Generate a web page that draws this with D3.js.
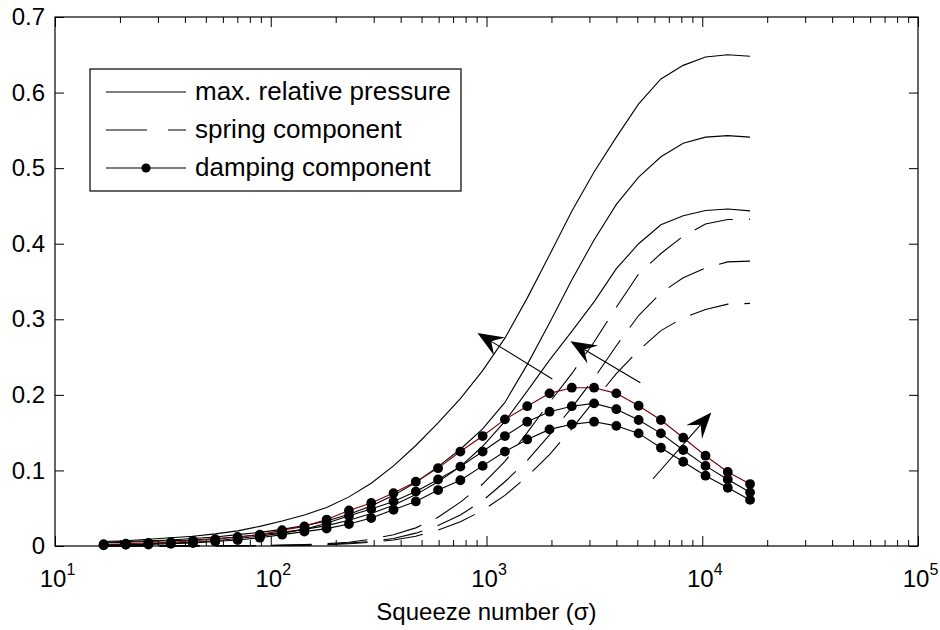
<!DOCTYPE html>
<html>
<head>
<meta charset="utf-8">
<script src="https://cdn.jsdelivr.net/npm/d3@7"></script>
<style>
  html, body { margin: 0; padding: 0; background: #fff; }
  svg { display: block; font-family: "Liberation Sans", Arial, Helvetica, sans-serif; }
</style>
</head>
<body>
<svg id="chart" width="940" height="630"></svg>
<script>
// ---------------- data ----------------
const sigma = [16.8, 21.3, 27.1, 34.4, 43.6, 55.3, 70.2, 89.0, 112.9, 143.2,
               181.6, 230.4, 292.2, 370.7, 470.2, 596.4, 756.6, 959.7, 1217, 1544,
               1959, 2485, 3152, 3998, 5072, 6433, 8161, 10352, 13131, 16657];

const pressure1 = [0.006, 0.007, 0.009, 0.011, 0.013, 0.016, 0.020, 0.026, 0.033, 0.041,
                   0.051, 0.065, 0.083, 0.106, 0.133, 0.163, 0.195, 0.232, 0.275, 0.328,
                   0.385, 0.443, 0.495, 0.541, 0.585, 0.618, 0.636, 0.647, 0.650, 0.648];
const pressure2 = [0.005, 0.006, 0.007, 0.008, 0.010, 0.012, 0.015, 0.018, 0.022, 0.027,
                   0.033, 0.042, 0.053, 0.067, 0.084, 0.105, 0.128, 0.155, 0.190, 0.240,
                   0.295, 0.352, 0.405, 0.452, 0.488, 0.515, 0.533, 0.541, 0.543, 0.541];
const pressure3 = [0.004, 0.005, 0.006, 0.007, 0.008, 0.010, 0.012, 0.015, 0.018, 0.022,
                   0.027, 0.034, 0.043, 0.054, 0.068, 0.085, 0.105, 0.132, 0.165, 0.205,
                   0.246, 0.284, 0.323, 0.367, 0.400, 0.425, 0.437, 0.444, 0.446, 0.4435];

const spring1 = [0.0001, 0.0001, 0.0002, 0.0002, 0.0003, 0.0004, 0.0005, 0.0008, 0.0012, 0.002,
                 0.003, 0.005, 0.009, 0.015, 0.024, 0.038, 0.058, 0.082, 0.112, 0.150,
                 0.190, 0.228, 0.270, 0.316, 0.360, 0.387, 0.410, 0.426, 0.432, 0.4325];
const spring2 = [0.0001, 0.0001, 0.0001, 0.0002, 0.0002, 0.0003, 0.0004, 0.0006, 0.0009, 0.0014,
                 0.002, 0.004, 0.006, 0.010, 0.017, 0.027, 0.041, 0.060, 0.085, 0.113,
                 0.147, 0.183, 0.222, 0.265, 0.305, 0.335, 0.355, 0.368, 0.376, 0.377];
const spring3 = [0.0001, 0.0001, 0.0001, 0.0001, 0.0002, 0.0002, 0.0003, 0.0005, 0.0007, 0.001,
                 0.0016, 0.003, 0.005, 0.008, 0.013, 0.021, 0.032, 0.047, 0.067, 0.092,
                 0.121, 0.155, 0.192, 0.228, 0.259, 0.285, 0.302, 0.313, 0.320, 0.321];

const damping1 = [0.002, 0.003, 0.004, 0.005, 0.007, 0.009, 0.012, 0.015, 0.021, 0.026,
                  0.035, 0.047, 0.057, 0.070, 0.085, 0.103, 0.125, 0.1455, 0.1676, 0.185,
                  0.202, 0.2095, 0.2095, 0.202, 0.1856, 0.1667, 0.1433, 0.1195, 0.098, 0.082];
const damping2 = [0.002, 0.002, 0.003, 0.004, 0.005, 0.007, 0.010, 0.013, 0.017, 0.022,
                  0.030, 0.040, 0.049, 0.059, 0.072, 0.088, 0.105, 0.125, 0.1455, 0.1644,
                  0.1777, 0.185, 0.1887, 0.181, 0.1667, 0.149, 0.127, 0.106, 0.088, 0.071];
const damping3 = [0.001, 0.002, 0.002, 0.003, 0.004, 0.006, 0.008, 0.011, 0.015, 0.019,
                  0.023, 0.029, 0.037, 0.048, 0.059, 0.074, 0.087, 0.106, 0.125, 0.141,
                  0.1543, 0.161, 0.1644, 0.159, 0.149, 0.130, 0.1115, 0.093, 0.077, 0.061];

const xTickValues = [10, 100, 1000, 10000, 100000];
const xTickExponents = ["1", "2", "3", "4", "5"];
const yTickValues = [0, 0.1, 0.2, 0.3, 0.4, 0.5, 0.6, 0.7];
const yTickLabels = ["0", "0.1", "0.2", "0.3", "0.4", "0.5", "0.6", "0.7"];
const legendLabels = ["max. relative pressure", "spring component", "damping component"];
const xLabel = "Squeeze number (\u03C3)";

// annotation arrows: [tail sigma, tail value, tip sigma, tip value]
const arrows = [
  [2018, 0.221, 908, 0.282],
  [5164, 0.216, 2449, 0.271],
  [5916, 0.089, 11015, 0.1766]
];

// ---------------- layout ----------------
const L = 55, R = 918, T = 17, B = 546;
const svg = d3.select("#chart");
const x = d3.scaleLog().domain([10, 1e5]).range([L, R]);
const y = d3.scaleLinear().domain([0, 0.7]).range([B, T]);

const line = d3.line().x((d, i) => x(sigma[i])).y(d => y(d));

const plot = svg.append("g");
const lw = 1.1;

// max relative pressure (solid)
[pressure1, pressure2, pressure3].forEach(s => {
  plot.append("path").attr("d", line(s)).attr("fill", "none")
    .attr("stroke", "#000").attr("stroke-width", lw);
});
// spring component (dashed)
[spring1, spring2, spring3].forEach(s => {
  plot.append("path").attr("d", line(s)).attr("fill", "none")
    .attr("stroke", "#000").attr("stroke-width", lw)
    .attr("stroke-dasharray", "40,16");
});
// damping component (line + dots)
[[damping3, "#000"], [damping2, "#000"], [damping1, "#7a0000"]].forEach(([s, c]) => {
  plot.append("path").attr("d", line(s)).attr("fill", "none")
    .attr("stroke", c).attr("stroke-width", lw);
  plot.selectAll(null).data(s).enter().append("circle")
    .attr("cx", (d, i) => x(sigma[i])).attr("cy", d => y(d))
    .attr("r", 4.9).attr("fill", "#000");
});

// arrows
arrows.forEach(a => {
  const x0 = x(a[0]), y0 = y(a[1]), x1 = x(a[2]), y1 = y(a[3]);
  const dx = x1 - x0, dy = y1 - y0, len = Math.hypot(dx, dy);
  const ux = dx / len, uy = dy / len, nx = -uy, ny = ux;
  const HL = 26, HW = 10.5, notch = 0.62 * HL;
  const bx = x1 - ux * HL, by = y1 - uy * HL;
  const mx = x1 - ux * notch, my = y1 - uy * notch;
  plot.append("line").attr("x1", x0).attr("y1", y0).attr("x2", mx).attr("y2", my)
    .attr("stroke", "#000").attr("stroke-width", 1.1);
  plot.append("path")
    .attr("d", `M${x1},${y1}L${bx + nx * HW},${by + ny * HW}L${mx},${my}L${bx - nx * HW},${by - ny * HW}Z`)
    .attr("fill", "#000");
});

// ---------------- axes ----------------
const minorVals = [];
for (let e = 1; e < 5; e++) for (let m = 2; m <= 9; m++) minorVals.push(m * Math.pow(10, e));

const axB = svg.append("g").attr("transform", `translate(0,${B})`)
  .call(d3.axisBottom(x).tickValues(xTickValues).tickSize(-10).tickSizeOuter(0).tickPadding(24).tickFormat(() => ""));
svg.append("g").attr("transform", `translate(0,${B})`)
  .call(d3.axisBottom(x).tickValues(minorVals).tickSize(-6).tickSizeOuter(0).tickFormat(() => ""));
svg.append("g").attr("transform", `translate(0,${T})`)
  .call(d3.axisTop(x).tickValues(xTickValues).tickSize(-10).tickSizeOuter(0).tickFormat(() => ""));
svg.append("g").attr("transform", `translate(0,${T})`)
  .call(d3.axisTop(x).tickValues(minorVals).tickSize(-6).tickSizeOuter(0).tickFormat(() => ""));
const axL = svg.append("g").attr("transform", `translate(${L},0)`)
  .call(d3.axisLeft(y).tickValues(yTickValues).tickSize(-9).tickSizeOuter(0).tickPadding(10)
    .tickFormat((d, i) => yTickLabels[i]));
svg.append("g").attr("transform", `translate(${R},0)`)
  .call(d3.axisRight(y).tickValues(yTickValues).tickSize(-9).tickSizeOuter(0).tickFormat(() => ""));

svg.selectAll(".domain").remove();
svg.selectAll(".tick line").attr("stroke", "#000").attr("stroke-width", 1);
axL.selectAll("text").attr("font-size", 24).attr("fill", "#000")
  .attr("font-family", "'Liberation Sans', Arial, sans-serif");

// x tick labels with superscripts
axB.selectAll(".tick").each(function (d, i) {
  const t = d3.select(this).select("text");
  t.text(null).attr("font-size", 24).attr("fill", "#000").attr("dy", null)
    .attr("y", 41).attr("x", 2)
    .attr("font-family", "'Liberation Sans', Arial, sans-serif");
  t.append("tspan").text("10");
  t.append("tspan").attr("font-size", 16).attr("dy", -12).text(xTickExponents[i]);
});

// frame
svg.append("rect").attr("x", L).attr("y", T).attr("width", R - L).attr("height", B - T)
  .attr("fill", "none").attr("stroke", "#000").attr("stroke-width", 1.2);

// x label
svg.append("text").attr("x", (L + R) / 2).attr("y", 620).attr("text-anchor", "middle")
  .attr("font-size", 24).attr("fill", "#000").text(xLabel);

// ---------------- legend ----------------
const lg = svg.append("g");
lg.append("rect").attr("x", 90).attr("y", 69).attr("width", 371).attr("height", 122)
  .attr("fill", "#fff").attr("stroke", "#000").attr("stroke-width", 1.2);
const rowsY = [92, 130, 168];
legendLabels.forEach((lab, i) => {
  const ry = rowsY[i];
  const ln = lg.append("line").attr("x1", 106).attr("x2", 186).attr("y1", ry).attr("y2", ry)
    .attr("stroke", "#000").attr("stroke-width", lw);
  if (i === 1) ln.attr("stroke-dasharray", "41,21");
  if (i === 2) lg.append("circle").attr("cx", 146).attr("cy", ry).attr("r", 4.6).attr("fill", "#000");
  lg.append("text").attr("x", 195).attr("y", ry + 8).attr("font-size", 26).attr("fill", "#000").text(lab);
});
</script>
</body>
</html>
